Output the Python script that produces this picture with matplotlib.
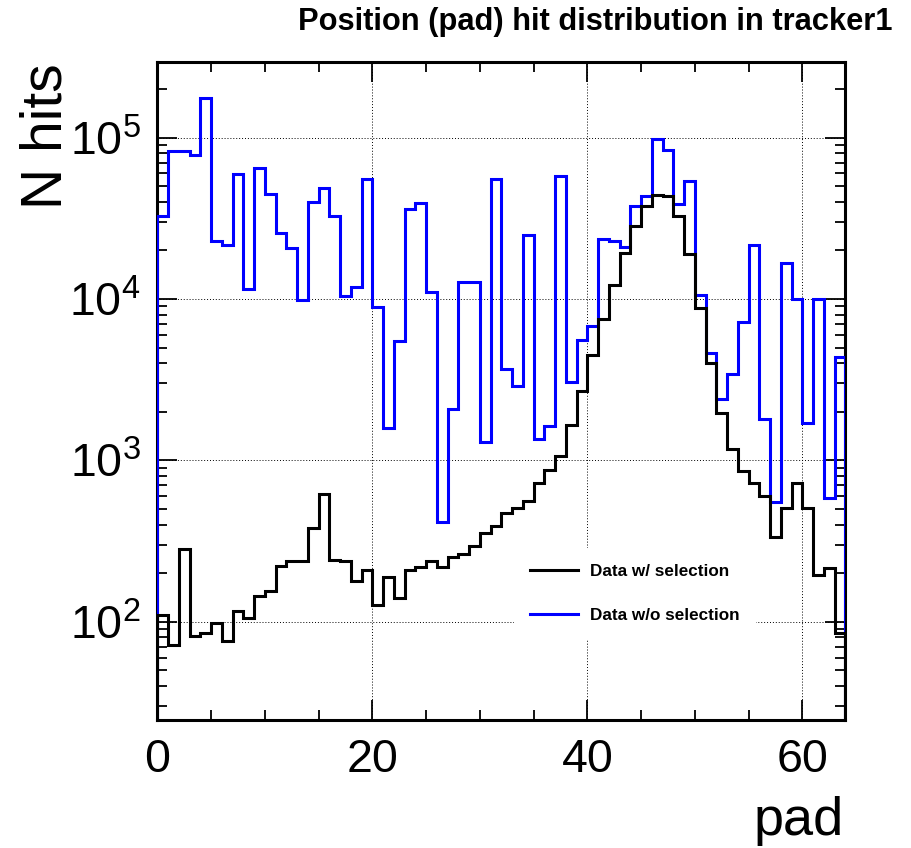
#!/usr/bin/env python3
"""Positionsfördelning (pad) av träffar i tracker1, med och utan urval."""

import numpy as np
import matplotlib
matplotlib.use("Agg")
import matplotlib.pyplot as plt
from matplotlib.lines import Line2D
from matplotlib.ticker import LogLocator, MultipleLocator, NullFormatter

# pad-bins 0..63, en bin per pad
PAD_EDGES = np.arange(0, 65)

HITS_NO_SEL = [
    3.25e4, 8.3e4, 8.3e4, 7.8e4, 1.75e5, 2.27e4, 2.15e4, 5.95e4,
    1.15e4, 6.46e4, 4.47e4, 2.56e4, 2.08e4, 9.8e3, 3.97e4, 4.87e4,
    3.28e4, 1.05e4, 1.18e4, 5.5e4, 8.9e3, 1.58e3, 5.5e3, 3.63e4,
    3.94e4, 1.1e4, 417, 2.07e3, 1.28e4, 1.28e4, 1.3e3, 5.57e4,
    3.66e3, 2.9e3, 2.48e4, 1.36e3, 1.63e3, 5.8e4, 3.07e3, 5.6e3,
    6.8e3, 2.35e4, 2.3e4, 2.09e4, 3.78e4, 4.35e4, 9.85e4, 8.34e4,
    3.85e4, 5.4e4, 1.06e4, 4.6e3, 2.39e3, 3.43e3, 7.2e3, 2.16e4,
    1.8e3, 554, 1.66e4, 1.0e4, 1.7e3, 1.0e4, 586, 4.35e3,
]

HITS_SEL = [
    110, 72, 281, 81.5, 85.5, 97.7, 75.9, 117,
    106, 145, 155, 222, 239, 239, 379, 617,
    241, 238, 179, 209, 127, 190, 140, 209,
    219, 238, 217, 251, 262, 295, 357, 394,
    470, 505, 563, 727, 871, 1060, 1660, 2690,
    4500, 7480, 12200, 19400, 28200, 37500, 44300, 43700,
    32800, 19000, 8800, 4030, 1970, 1170, 858, 721,
    604, 336, 505, 727, 509, 195, 214, 85.5,
]

LABELS = ["Data w/ selection", "Data w/o selection"]
COLORS = ["black", "#0000ff"]


def setup_fonts():
    plt.rcParams["font.family"] = ["Liberation Sans", "DejaVu Sans"]
    plt.rcParams["mathtext.fontset"] = "custom"
    plt.rcParams["mathtext.rm"] = "Liberation Sans"
    plt.rcParams["mathtext.it"] = "Liberation Sans:italic"
    plt.rcParams["mathtext.bf"] = "Liberation Sans:bold"


def create_plot():
    setup_fonts()
    fig = plt.figure(figsize=(9.11, 8.48), dpi=100)
    ax = fig.add_axes([0.1727, 0.1509, 0.7552, 0.7763])

    ax.stairs(HITS_NO_SEL, PAD_EDGES, baseline=1, color=COLORS[1], linewidth=2.2, zorder=3)
    ax.stairs(HITS_SEL, PAD_EDGES, baseline=1, color=COLORS[0], linewidth=2.2, zorder=3)

    ax.set_yscale("log")
    ax.set_xlim(0, 64)
    ax.set_ylim(24.6, 2.95e5)

    ax.xaxis.set_major_locator(MultipleLocator(20))
    ax.xaxis.set_minor_locator(MultipleLocator(5))
    ax.yaxis.set_major_locator(LogLocator(base=10))
    ax.yaxis.set_minor_locator(LogLocator(base=10, subs=np.arange(2, 10)))
    ax.yaxis.set_minor_formatter(NullFormatter())

    ax.tick_params(which="both", direction="in", top=True, right=True, labelsize=33.5)
    ax.tick_params(which="major", length=14.4, width=1.3, pad=12)
    ax.tick_params(which="minor", length=7.2, width=1.3)
    ax.tick_params(axis="x", which="major", pad=13)
    for sp in ax.spines.values():
        sp.set_linewidth(2.2)

    ax.grid(True, which="major", linestyle=(0, (1, 2)), color="black", linewidth=0.7)
    ax.set_axisbelow(True)

    handles = [Line2D([], [], color=c, linewidth=2.2) for c in COLORS]
    leg = ax.legend(handles, LABELS, loc="upper left", bbox_to_anchor=(0.518, 0.2615),
                    borderaxespad=0, prop={"size": 12.3, "weight": "bold"},
                    handlelength=2.8, handletextpad=0.7, labelspacing=1.69,
                    borderpad=0.96, fancybox=False, framealpha=1)
    leg.get_frame().set_edgecolor("white")
    leg.get_frame().set_linewidth(0)

    fig.text(0.980, 1 - 30 / 848, "Position (pad) hit distribution in tracker1",
             ha="right", va="baseline", fontsize=22.2, fontweight="bold")
    fig.text(0.051, 1 - 63 / 848, "N hits", rotation=90, ha="center", va="top", fontsize=41)
    fig.text(0.926, 1 - 835 / 848, "pad", ha="right", va="baseline", fontsize=39)

    fig.savefig("out.png", dpi=100)
    plt.close(fig)


def main():
    create_plot()


if __name__ == "__main__":
    main()
